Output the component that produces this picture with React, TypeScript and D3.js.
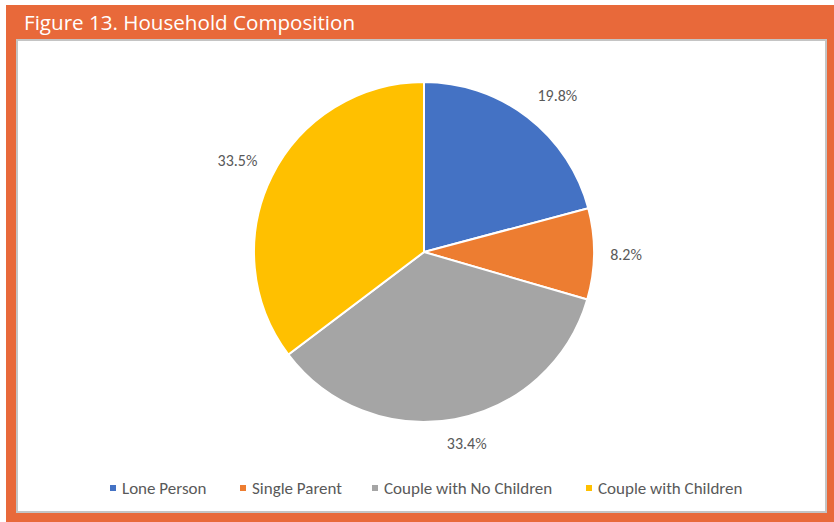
import React, { useEffect, useRef } from 'react';
import * as d3 from 'd3';

const categories = ['Lone Person', 'Single Parent', 'Couple with No Children', 'Couple with Children'];
const shares = [19.8, 8.2, 33.4, 33.5];
const colors = ['#4472C4', '#ED7D31', '#A5A5A5', '#FFC000'];
const titleText = 'Figure 13. Household Composition';

const W = 834;
const H = 522;

const App: React.FC = () => {
  const svgRef = useRef<SVGSVGElement>(null);

  useEffect(() => {
    if (!svgRef.current) return;
    const svg = d3.select(svgRef.current);
    svg.selectAll('*').remove();

    // frame
    svg.append('rect').attr('x', 0).attr('y', 0).attr('width', W).attr('height', H).attr('fill', '#fff');
    svg.append('rect')
      .attr('x', 6).attr('y', 5).attr('width', W - 6).attr('height', H - 5)
      .attr('fill', '#E8693A');
    svg.append('rect')
      .attr('x', 17).attr('y', 40).attr('width', 809).attr('height', 472)
      .attr('fill', '#fff').attr('stroke', '#C4C4C4').attr('stroke-width', 2);

    svg.append('text')
      .attr('x', 24).attr('y', 30)
      .attr('fill', '#fff')
      .attr('font-family', 'Open Sans, sans-serif')
      .attr('font-size', 20.6)
      .text(titleText);

    // pie
    const cx = 424;
    const cy = 252;
    const r = 170;
    const g = svg.append('g').attr('transform', `translate(${cx},${cy})`);

    const data = categories.map((c, i) => ({ cat: c, value: shares[i], color: colors[i] }));
    const pie = d3.pie<typeof data[0]>().value(d => d.value).sort(null);
    const arc = d3.arc<d3.PieArcDatum<typeof data[0]>>().innerRadius(0).outerRadius(r);
    const arcs = pie(data);

    g.selectAll('path.slice')
      .data(arcs)
      .enter()
      .append('path')
      .attr('class', 'slice')
      .attr('d', arc)
      .attr('fill', d => d.data.color)
      .attr('stroke', '#fff')
      .attr('stroke-width', 2);

    // outside-end labels, roughly like Excel's placement
    const pad = 16;
    const fontSize = 16;
    const clamp = (v: number) => Math.max(-1, Math.min(1, v));
    g.selectAll('text.lbl')
      .data(arcs)
      .enter()
      .append('text')
      .attr('class', 'lbl')
      .attr('font-family', 'Carlito, Liberation Sans, sans-serif')
      .attr('font-size', fontSize)
      .attr('fill', '#595959')
      .attr('text-anchor', 'middle')
      .attr('dominant-baseline', 'central')
      .attr('transform', d => {
        const a = (d.startAngle + d.endAngle) / 2;
        const s = Math.sin(a);
        const c = -Math.cos(a);
        const label = `${d.data.value.toFixed(1)}%`;
        const halfW = (label.length * fontSize * 0.5) / 2;
        const halfH = fontSize * 0.55;
        const x = (r + pad) * s + halfW * clamp(2.5 * s);
        const y = (r + pad) * c + halfH * clamp(2.5 * c);
        return `translate(${x},${y})`;
      })
      .text(d => `${d.data.value.toFixed(1)}%`);

    // legend
    const legendX = [110, 240, 372, 586];
    const legendY = 488;
    const lg = svg.append('g');
    categories.forEach((c, i) => {
      lg.append('rect')
        .attr('x', legendX[i]).attr('y', legendY - 3)
        .attr('width', 6).attr('height', 6)
        .attr('fill', colors[i]);
      lg.append('text')
        .attr('x', legendX[i] + 12).attr('y', legendY)
        .attr('dominant-baseline', 'central')
        .attr('font-family', 'Carlito, Liberation Sans, sans-serif')
        .attr('font-size', 17)
        .attr('fill', '#595959')
        .text(c);
    });
  }, []);

  return (
    <div style={{ position: 'absolute', left: 0, top: 0, width: W, height: H }}>
      <svg ref={svgRef} width={W} height={H} />
    </div>
  );
};

export default App;
